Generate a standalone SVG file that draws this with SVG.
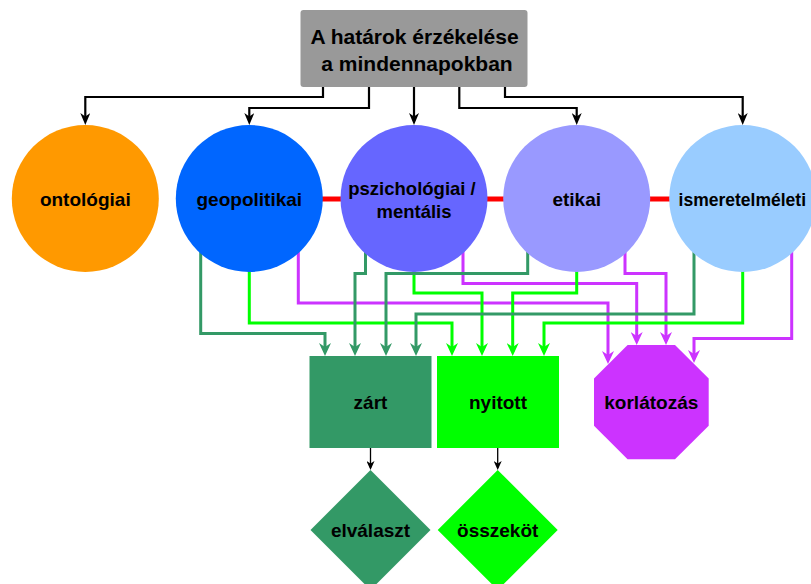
<svg xmlns="http://www.w3.org/2000/svg" width="811" height="584" viewBox="0 0 811 584">
<style>
  text { font-family: "Liberation Sans", Arial, sans-serif; font-weight: bold; fill: #000; text-anchor: middle; }
  .k { fill: none; stroke: #000; stroke-width: 2.2; }
  .dg { fill: none; stroke: #339966; stroke-width: 3; }
  .bg { fill: none; stroke: #00FF00; stroke-width: 3; }
  .mg { fill: none; stroke: #CC33FF; stroke-width: 3; }
  .rd { fill: none; stroke: #FF0000; stroke-width: 5; }
  .th { fill: none; stroke: #000; stroke-width: 1.3; }
</style>
<defs>
  <marker id="aK" viewBox="0 0 12 10" refX="8" refY="5" markerWidth="12" markerHeight="10" markerUnits="userSpaceOnUse" orient="auto"><path d="M0,0 L12,5 L0,10 L3.5,5 Z" fill="#000"/></marker>
  <marker id="aDG" viewBox="0 0 13 12" refX="9" refY="6" markerWidth="13" markerHeight="12" markerUnits="userSpaceOnUse" orient="auto"><path d="M0,0 L13,6 L0,12 L4,6 Z" fill="#339966"/></marker>
  <marker id="aBG" viewBox="0 0 13 12" refX="9" refY="6" markerWidth="13" markerHeight="12" markerUnits="userSpaceOnUse" orient="auto"><path d="M0,0 L13,6 L0,12 L4,6 Z" fill="#00FF00"/></marker>
  <marker id="aMG" viewBox="0 0 13 12" refX="9" refY="6" markerWidth="13" markerHeight="12" markerUnits="userSpaceOnUse" orient="auto"><path d="M0,0 L13,6 L0,12 L4,6 Z" fill="#CC33FF"/></marker>
  <marker id="aS" viewBox="0 0 9 8" refX="7" refY="4" markerWidth="9" markerHeight="8" markerUnits="userSpaceOnUse" orient="auto"><path d="M0,0 L9,4 L0,8 L2.5,4 Z" fill="#000"/></marker>
</defs>
<rect width="811" height="584" fill="#fff"/>
<g id="connectors">
  <path class="k" marker-end="url(#aK)" d="M323,87 V97 H85.3 V121"/>
  <path class="k" marker-end="url(#aK)" d="M369,87 V108 H249.3 V121"/>
  <path class="k" marker-end="url(#aK)" d="M414,87 V121"/>
  <path class="k" marker-end="url(#aK)" d="M459.3,87 V108 H576.7 V121"/>
  <path class="k" marker-end="url(#aK)" d="M505,87 V97 H742.7 V121"/>
  <line class="rd" x1="320" y1="199" x2="344" y2="199"/>
  <line class="rd" x1="485" y1="199" x2="506" y2="199"/>
  <line class="rd" x1="648" y1="199" x2="672" y2="199"/>
  <path class="dg" marker-end="url(#aDG)" d="M200.7,250 V333.5 H325 V352"/>
  <path class="bg" marker-end="url(#aBG)" d="M249.3,265 V323 H452 V352"/>
  <path class="mg" marker-end="url(#aMG)" d="M298.3,250 V303 H608 V360"/>
  <path class="dg" marker-end="url(#aDG)" d="M365.5,250 V273.5 H355 V352"/>
  <path class="bg" marker-end="url(#aBG)" d="M414,265 V293 H482 V352"/>
  <path class="mg" marker-end="url(#aMG)" d="M463,250 V283.5 H636.7 V341"/>
  <path class="dg" marker-end="url(#aDG)" d="M527.7,250 V273.5 H386 V352"/>
  <path class="bg" marker-end="url(#aBG)" d="M576.7,265 V293 H512.7 V352"/>
  <path class="mg" marker-end="url(#aMG)" d="M625,250 V273.5 H666 V341"/>
  <path class="dg" marker-end="url(#aDG)" d="M694,250 V314 H416 V352"/>
  <path class="bg" marker-end="url(#aBG)" d="M742.7,265 V323 H544 V352"/>
  <path class="mg" marker-end="url(#aMG)" d="M791.7,250 V338.5 H694 V359"/>
  <path class="th" marker-end="url(#aS)" d="M370.5,448 V468"/>
  <path class="th" marker-end="url(#aS)" d="M497.7,448 V468"/>
</g>
<g id="top">
  <rect x="300.5" y="10" width="227" height="77" rx="3" fill="#999999"/>
  <text x="414.5" y="44" font-size="21">A határok érzékelése</text>
  <text x="417" y="71" font-size="21">a mindennapokban</text>
</g>
<g id="ontologiai">
  <circle cx="85.3" cy="198.5" r="73.5" fill="#FF9900"/>
  <text x="85.3" y="205.5" font-size="19">ontológiai</text>
</g>
<g id="geopolitikai">
  <circle cx="249.3" cy="198.5" r="73.5" fill="#0066FF"/>
  <text x="249.3" y="205.5" font-size="19">geopolitikai</text>
</g>
<g id="pszichologiai">
  <circle cx="414" cy="198.5" r="73.5" fill="#6666FF"/>
  <text x="412" y="195" font-size="18.5">pszichológiai /</text>
  <text x="414" y="218" font-size="18.5">mentális</text>
</g>
<g id="etikai">
  <circle cx="576.7" cy="198.5" r="73.5" fill="#9999FF"/>
  <text x="576.7" y="205.5" font-size="19">etikai</text>
</g>
<g id="ismeretelmeleti">
  <circle cx="742.7" cy="198.5" r="73.5" fill="#99CCFF"/>
  <text x="742.3" y="205.5" font-size="17.5">ismeretelméleti</text>
</g>
<g id="zart">
  <rect x="309.5" y="356" width="122" height="92" fill="#339966"/>
  <text x="370.5" y="409" font-size="19">zárt</text>
</g>
<g id="nyitott">
  <rect x="437" y="356" width="122" height="92" fill="#00FF00"/>
  <text x="498" y="409" font-size="19">nyitott</text>
</g>
<g id="korlatozas">
  <polygon points="627.6,345 675,345 708.7,378.5 708.7,425.8 675,459.3 627.6,459.3 594,425.8 594,378.5" fill="#CC33FF"/>
  <text x="651.3" y="409" font-size="19">korlátozás</text>
</g>
<g id="elvalaszt">
  <polygon points="370.5,470 430.5,530 370.5,590 310.5,530" fill="#339966"/>
  <text x="370.5" y="537" font-size="19">elválaszt</text>
</g>
<g id="osszekot">
  <polygon points="497.7,470 557.7,530 497.7,590 437.7,530" fill="#00FF00"/>
  <text x="497.7" y="537" font-size="19">összeköt</text>
</g>
</svg>
